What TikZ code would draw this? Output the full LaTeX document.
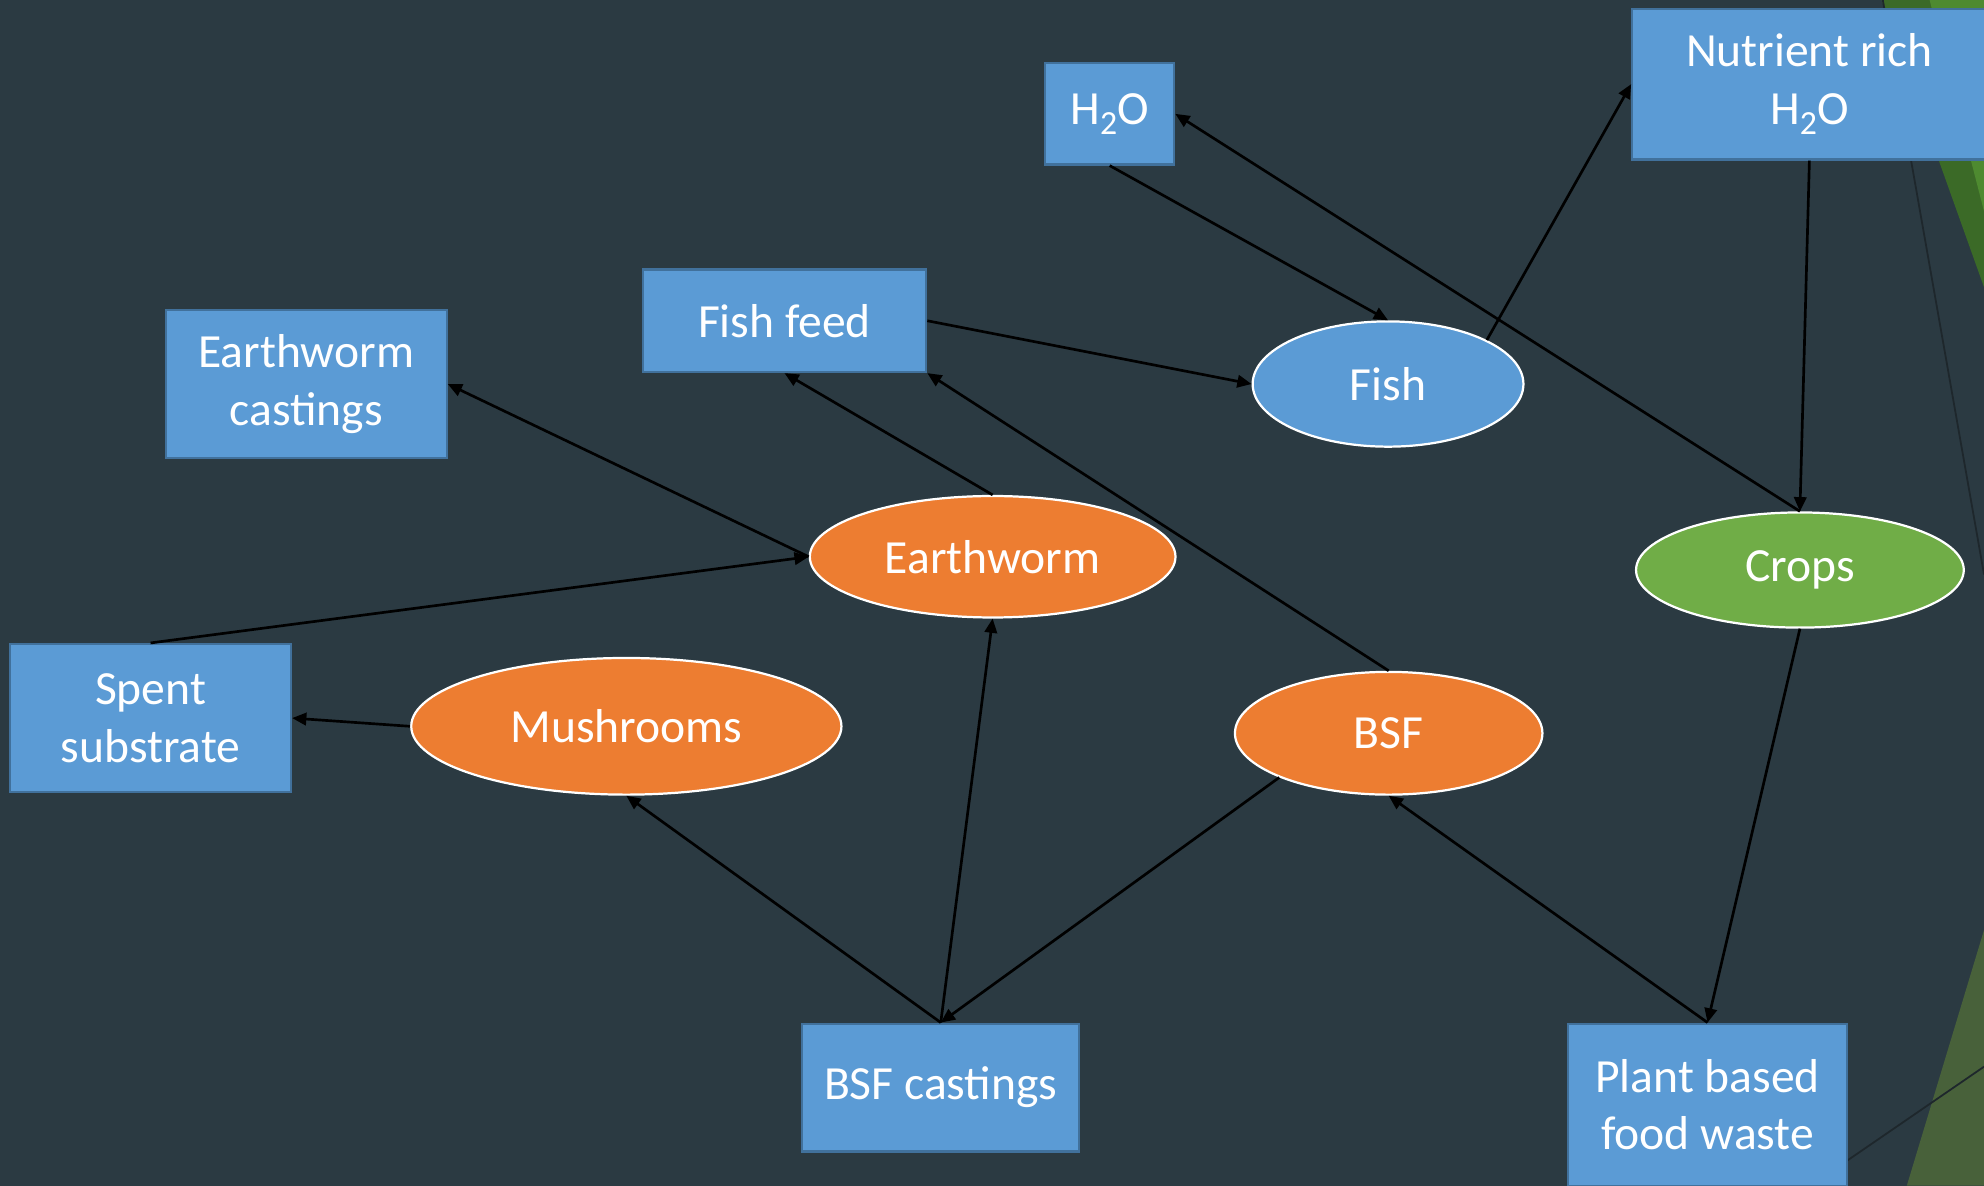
\documentclass[tikz,border=0pt]{standalone}
\usepackage{fontspec}
\setmainfont{Carlito}
\usetikzlibrary{arrows.meta,shapes.geometric}

\definecolor{slidebg}{HTML}{2B3A42}
\definecolor{boxblue}{HTML}{5B9BD5}
\definecolor{boxline}{HTML}{41719C}
\definecolor{organge}{HTML}{ED7D31}
\definecolor{cropgreen}{HTML}{70AD47}
\definecolor{leafdark}{HTML}{3B6A27}
\definecolor{leaflight}{HTML}{4E8A30}
\definecolor{olive}{HTML}{48613A}
\definecolor{thinline}{HTML}{1E272C}

\newcommand{\water}{H\raisebox{-0.45ex}{\fontsize{7.6}{8}\selectfont 2}O}

\begin{document}
\begin{tikzpicture}[
    box/.style={rectangle, fill=boxblue, draw=boxline, line width=0.5pt,
      text=white, align=center, inner sep=0pt},
    organism/.style={ellipse, draw=white, line width=0.5pt, text=white,
      inner sep=0pt},
    flow/.style={-{Triangle[length=3.2pt,width=2.8pt]}, line width=0.6pt, black},
    font=\fontsize{10.7}{13}\selectfont
  ]
   % Sizes
   \pgfmathsetmacro{\slidew}{15.68}
   \pgfmathsetmacro{\slideh}{9.37}

   % background
   \useasboundingbox (0,0) rectangle (\slidew,\slideh);
   \fill[slidebg] (-0.05,-0.05) rectangle (\slidew+0.05,\slideh+0.05);
   \fill[leafdark] (14.87,\slideh) -- (\slidew,\slideh) -- (\slidew,7.10) -- cycle;
   \fill[leaflight] (15.25,\slideh) -- (\slidew,\slideh) -- (\slidew,7.70) -- cycle;
   \fill[olive] (15.07,0) -- (\slidew,2.02) -- (\slidew,0) -- cycle;
   \draw[thinline, line width=0.4pt] (14.88,\slideh) -- (\slidew,4.83);
   \draw[thinline, line width=0.4pt] (14.50,0.13) -- (\slidew,0.94);

   % vertices
   \node[box, minimum width=1.02cm, minimum height=0.80cm] (h2o) at (8.77,8.47) {\water};
   \node[box, minimum width=2.80cm, minimum height=1.19cm] (nutrient) at (14.30,8.705) {Nutrient rich\\\water};
   \node[box, minimum width=2.24cm, minimum height=0.81cm] (feed) at (6.20,6.835) {Fish feed};
   \node[box, minimum width=2.22cm, minimum height=1.17cm] (wcast) at (2.42,6.335) {Earthworm\\castings};
   \node[box, minimum width=2.22cm, minimum height=1.17cm] (spent) at (1.19,3.695) {Spent\\substrate};
   \node[box, minimum width=2.19cm, minimum height=1.01cm] (bsfcast) at (7.435,0.775) {BSF castings};
   \node[box, minimum width=2.21cm, minimum height=1.28cm] (plant) at (13.495,0.64) {Plant based\\food waste};

   \node[organism, fill=boxblue, minimum width=2.14cm, minimum height=0.99cm] (fish) at (10.97,6.335) {Fish};
   \node[organism, fill=organge, minimum width=2.89cm, minimum height=0.96cm] (worm) at (7.845,4.97) {Earthworm};
   \node[organism, fill=cropgreen, minimum width=2.59cm, minimum height=0.91cm] (crops) at (14.225,4.865) {Crops};
   \node[organism, fill=organge, minimum width=3.40cm, minimum height=1.08cm] (mush) at (4.95,3.63) {Mushrooms};
   \node[organism, fill=organge, minimum width=2.43cm, minimum height=0.97cm] (bsf) at (10.975,3.575) {BSF};

   % draw diagram
   \draw[flow] (h2o.south) -- (fish.north);
   \draw[flow] (crops.north) -- (h2o.east);
   \draw[flow] (fish.24) -- (nutrient.west);
   \draw[flow] (nutrient.south) -- (crops.north);
   \draw[flow] (crops.south) -- (plant.north);
   \draw[flow] (plant.north) -- (bsf.south);
   \draw[flow] (bsf.202) -- (bsfcast.north);
   \draw[flow] (bsfcast.north) -- (worm.south);
   \draw[flow] (bsfcast.north) -- (mush.south);
   \draw[flow] (bsf.north) -- (feed.south east);
   \draw[flow] (worm.north) -- (feed.south);
   \draw[flow] (worm.west) -- (wcast.east);
   \draw[flow] (spent.north) -- (worm.west);
   \draw[flow] (mush.west) -- (spent.east);
   \draw[flow] (feed.east) -- (fish.west);
\end{tikzpicture}
\end{document}
